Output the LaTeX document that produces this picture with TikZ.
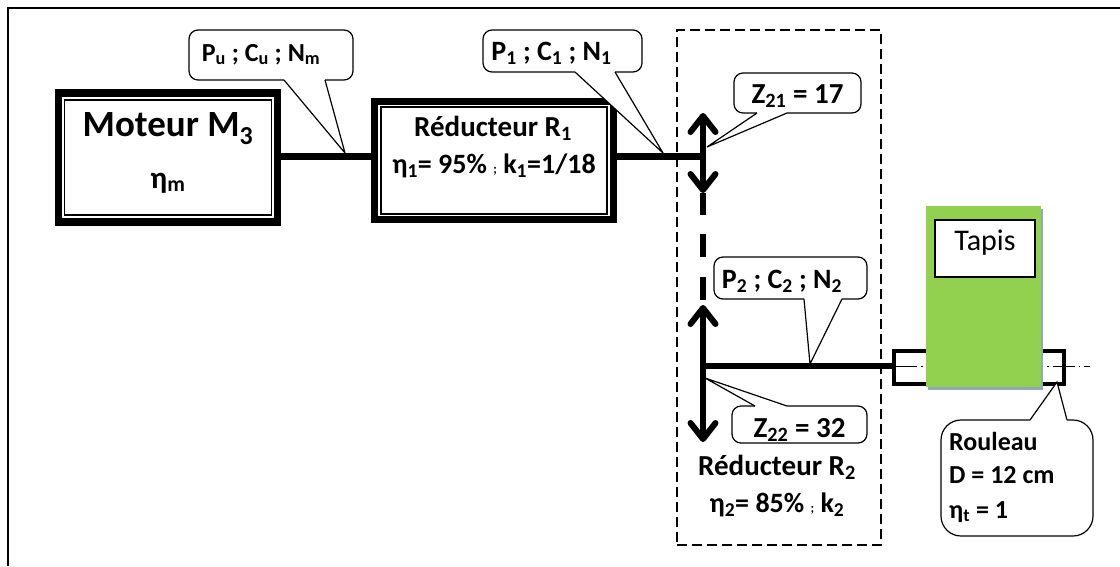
\documentclass[tikz,border=0pt]{standalone}
\usepackage{fontspec}
\setmainfont{Carlito}
\usetikzlibrary{arrows.meta, positioning, shadows}
\definecolor{vertTapis}{HTML}{92D050}
\definecolor{grisTapis}{HTML}{8FAAB4}
\newcommand{\taille}[1]{\fontsize{#1}{#1}\selectfont}
\newcommand{\pointv}{{\taille{13};}}
\tikzset{
  bloc/.style={draw, line width=7.5pt, inner sep=0pt},
  blocint/.style={draw, line width=1.8pt, inner sep=0pt},
  arbre/.style={line width=7pt},
  arbrefin/.style={line width=5.5pt},
  roue/.style={line width=6pt, {Straight Barb[length=16pt,width=25pt,round]}-{Straight Barb[length=16pt,width=25pt,round]}},
  bulle/.style={draw, line width=1.2pt, rounded corners=9pt, inner sep=0pt, text depth=0pt, text height=#1, font=\bfseries\taille{28}},
  texte/.style={anchor=base, inner sep=0pt, font=\bfseries\taille{29}}
}
% queue d'une bulle : point d'attache, pointe, point d'attache
\newcommand{\queue}[3]{
  \fill[white] (#1) -- (#2) -- (#3) -- cycle;
  \draw[white, line width=2.4pt] (#1) -- (#3);
  \draw[line width=1.2pt, line join=miter] (#1) -- (#2) -- (#3);
}
\begin{document}
\begin{tikzpicture}[x=1pt, y=-1pt]
\useasboundingbox (0,0) rectangle (1120,566);
\coordinate (cadreH) at (1120,8);
\coordinate (cadreO) at (8,8);
\coordinate (cadreB) at (8,566);
\draw[line width=1.6pt] (cadreH) -- (cadreO) -- (cadreB);

% reducteur 2 (cadre)
\node (cadreR2) [draw, line width=1.6pt, dash pattern=on 10pt off 5pt, minimum width=204pt, minimum height=515pt] at (779,287.5) {};

% moteur et reducteur 1
\node (moteur) [bloc, minimum width=219pt, minimum height=129pt] at (168,157.5) {};
\node (moteurInt) [blocint, minimum width=207pt, minimum height=115pt] at (168,157.5) {};
\node (moteurT) [texte, font=\bfseries\taille{37}] at (168,136) {Moteur M\textsubscript{3}};
\node (moteurE) [texte, font=\bfseries\taille{31}] at (168,188) {η\textsubscript{m}};
\node (redA) [bloc, minimum width=239pt, minimum height=118pt] at (494,160.5) {};
\node (redAInt) [blocint, minimum width=226pt, minimum height=107pt] at (494,160.5) {};
\node (redAT) [texte] at (493,136) {Réducteur R\textsubscript{1}};
\node (redAE) [texte, font=\bfseries\taille{28}] at (494,173) {η\textsubscript{1}= 95\% \pointv{} k\textsubscript{1}=1/18};

% arbres et roues
\coordinate (axeA) at (703,156);
\coordinate (axeB) at (703,366);
\coordinate (rAh) at (703,113);
\coordinate (rAb) at (703,193);
\coordinate (rAq) at (703,215);
\coordinate (tiretH) at (703,234);
\coordinate (tiretB) at (703,300);
\coordinate (rBh) at (703,305);
\coordinate (rBb) at (703,442);
\coordinate (ligneG) at (895,366);
\coordinate (ligneD) at (1090,366);

\draw[arbre] (moteur.east |- axeA) -- (redA.west |- axeA);
\draw[arbre] (redA.east |- axeA) -- (axeA);
\draw[roue] (rAh) -- (rAb);
\draw[roue, arrows=-] (rAb) -- (rAq);
\draw[roue, arrows=-, dash pattern=on 23pt off 20pt] (tiretH) -- (tiretB);
\draw[roue] (rBh) -- (rBb);

% rouleau et tapis
\node (rouleau) [draw, line width=3.6pt, minimum width=170pt, minimum height=33pt, inner sep=0pt] at (979,367.5) {};
\draw[line width=0.7pt, dash pattern=on 22pt off 4pt on 1.5pt off 4pt] (ligneG) -- (ligneD);
\draw[arbrefin] (axeB) -- (rouleau.west |- axeB);
\node (tapis) [fill=vertTapis, minimum width=115pt, minimum height=181pt, inner sep=0pt,
  drop shadow={shadow xshift=2pt, shadow yshift=-3pt, fill=grisTapis, opacity=1}] at (983.5,296.5) {};
\node (tapisT) [draw, fill=white, line width=1.5pt, minimum width=100pt, minimum height=57pt, inner sep=0pt] at (985,248.5) {};
\node (tapisL) [texte, font=\taille{30}] at (985,250) {Tapis};

% bulles
\coordinate (puP) at (345,153);
\coordinate (puG) at (284,80);
\coordinate (puD) at (325,80);
\coordinate (paP) at (663,153);
\coordinate (paG) at (575,72);
\coordinate (paD) at (615,72);
\coordinate (zaP) at (707,147);
\coordinate (zaG) at (757,113);
\coordinate (zaD) at (787,113);
\coordinate (pbP) at (810,364);
\coordinate (pbG) at (804,299);
\coordinate (pbD) at (842,299);
\coordinate (zbP) at (705,378);
\coordinate (zbG) at (755,406);
\coordinate (zbD) at (787,406);
\coordinate (roP) at (1057,382);
\coordinate (roG) at (1030,420);
\coordinate (roD) at (1067,420);

\node (pu) [bulle=12pt, font=\bfseries\taille{26}, minimum width=164pt, minimum height=50pt] at (271,55) {\hspace*{-20pt}P\textsubscript{u} ; C\textsubscript{u} ; N\textsubscript{m}};
\queue{puG}{puP}{puD}
\node (pa) [bulle=19pt, minimum width=159pt, minimum height=42pt] at (562.5,51) {\hspace*{-22pt}P\textsubscript{1} ; C\textsubscript{1} ; N\textsubscript{1}};
\queue{paG}{paP}{paD}
\node (za) [bulle=20pt, font=\bfseries\taille{29}, minimum width=127pt, minimum height=40pt] at (797.5,93) {Z\textsubscript{21} = 17};
\queue{zaG}{zaP}{zaD}
\node (pb) [bulle=20pt, minimum width=153pt, minimum height=42pt] at (790.5,278) {\hspace*{-17pt}P\textsubscript{2} ; C\textsubscript{2} ; N\textsubscript{2}};
\queue{pbG}{pbP}{pbD}
\node (zb) [bulle=25pt, font=\bfseries\taille{29}, minimum width=135pt, minimum height=37pt] at (799.5,424.5) {Z\textsubscript{22} = 32};
\queue{zbG}{zbP}{zbD}
\node (ro) [draw, line width=1.2pt, rounded corners=20pt, minimum width=152pt, minimum height=116pt] at (1017,478) {};
\queue{roG}{roP}{roD}

\node (roA) [texte, anchor=base west, font=\bfseries\taille{26}] at (949,450) {Rouleau};
\node (roB) [texte, anchor=base west, font=\bfseries\taille{26}] at (949,483) {D = 12 cm};
\node (roC) [texte, anchor=base west, font=\bfseries\taille{26}] at (949,518) {η\textsubscript{t} = 1};

% textes reducteur 2
\node (redBT) [texte] at (777,475) {Réducteur R\textsubscript{2}};
\node (redBE) [texte, font=\bfseries\taille{28}] at (777,512) {η\textsubscript{2}= 85\% \pointv{} k\textsubscript{2}};
\end{tikzpicture}
\end{document}
